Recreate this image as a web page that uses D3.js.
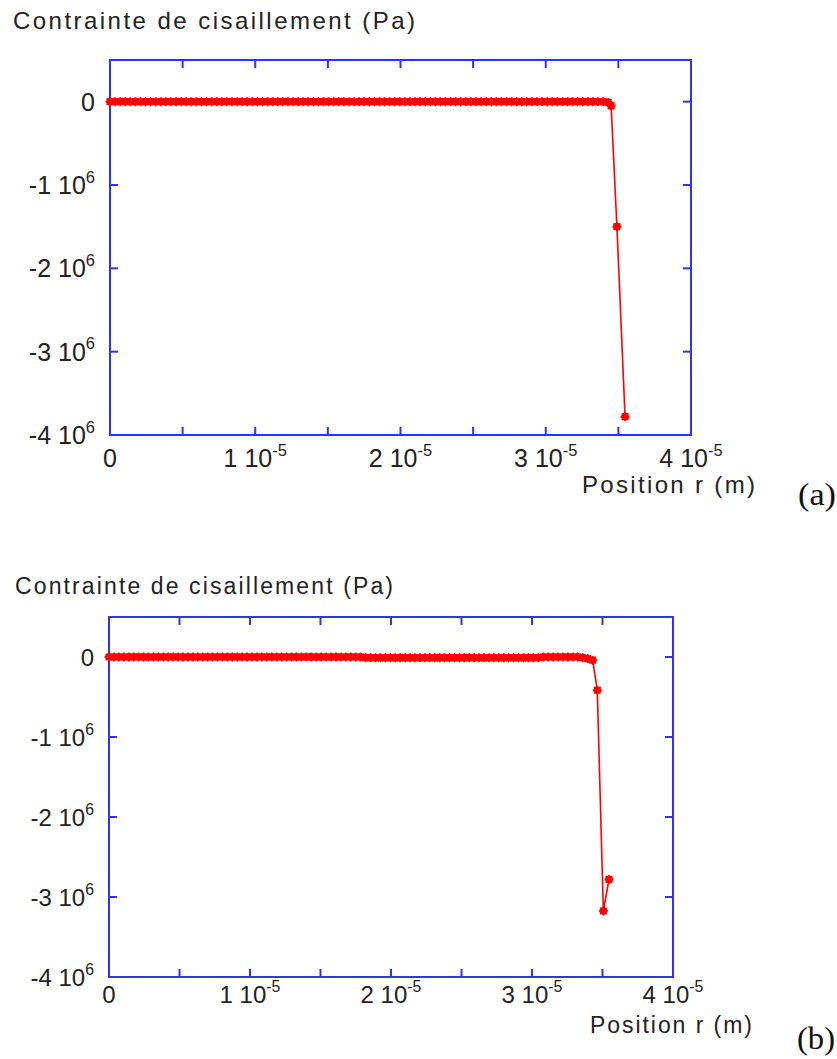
<!DOCTYPE html>
<html><head><meta charset="utf-8">
<script src="https://cdn.jsdelivr.net/npm/d3@7"></script>
<style>body{margin:0;background:#fff}svg{display:block}</style>
</head><body>
<script>
// radial positions (units of 1e-5 m) on the flat part of the profile
const rGrid = [0,0.035,0.07,0.105,0.14,0.175,0.21,0.245,0.28,0.315,0.35,0.385,0.42,0.455,0.49,0.525,0.56,0.595,0.63,0.665,0.7,0.735,0.77,0.805,0.84,0.875,0.91,0.945,0.98,1.015,1.05,1.085,1.12,1.155,1.19,1.225,1.26,1.295,1.33,1.365,1.4,1.435,1.47,1.505,1.54,1.575,1.61,1.645,1.68,1.715,1.75,1.785,1.82,1.855,1.89,1.925,1.96,1.995,2.03,2.065,2.1,2.135,2.17,2.205,2.24,2.275,2.31,2.345,2.38,2.415,2.45,2.485,2.52,2.555,2.59,2.625,2.66,2.695,2.73,2.765,2.8,2.835,2.87,2.905,2.94,2.975,3.01,3.045,3.08,3.115,3.15,3.185,3.22,3.255,3.29,3.325,3.36,3.395,3.43];
// shear stress (units of 1e6 Pa) on the flat part
const tauFlatA = [0,0,0,0,0,0,0,0,0,0,0,0,0,0,0,0,0,0,0,0,0,0,0,0,0,0,0,0,0,0,0,0,0,0,0,0,0,0,0,0,0,0,0,0,0,0,0,0,0,0,0,0,0,0,0,0,0,0,0,0,0,0,0,0,0,0,0,0,0,0,0,0,0,0,0,0,0,0,0,0,0,0,0,0,0,0,0,0,0,0,0,0,0,0,0,0,0,0,-0.01];
const tauFlatB = [0,0,0,0,0,0,0,0,0,0,0,0,0,0,0,0,0,0,0,0,0,0,0,0,0,0,0,0,0,0,0,0,0,0,0,0,0,0,0,0,0,0,0,0,0,0,0,0,0,0,0,0,-0.01,-0.01,-0.01,-0.01,-0.01,-0.01,-0.01,-0.01,-0.01,-0.01,-0.01,-0.01,-0.01,-0.01,-0.01,-0.01,-0.01,-0.01,-0.01,-0.01,-0.01,-0.01,-0.01,-0.01,-0.01,-0.01,-0.01,-0.01,-0.01,-0.01,-0.01,-0.01,-0.01,-0.01,-0.01,-0.01,0,0,0,0,0,0,0,0,-0.01,-0.02,-0.04];
// tails of the profiles near the wall
const rTailA = [3.45, 3.49, 3.546];
const tauTailA = [-0.05, -1.5, -3.78];
const rTailB = [3.463, 3.506, 3.546];
const tauTailB = [-0.415, -3.175, -2.78];
// axes
const xDomain = [0, 4];       // x 1e-5 m
const yDomain = [-4, 0.5];    // x 1e6 Pa
const xTicks = [0,0.5,1,1.5,2,2.5,3,3.5,4];
const xTickLabels = [[0,"0",""],[1,"1 10","-5"],[2,"2 10","-5"],[3,"3 10","-5"],[4,"4 10","-5"]];
const yTicks = [0,-1,-2,-3,-4];
const yTickLabels = [[0,"0",""],[-1,"-1 10","6"],[-2,"-2 10","6"],[-3,"-3 10","6"],[-4,"-4 10","6"]];
const yTitle = "Contrainte de cisaillement (Pa)";
const xTitle = "Position r (m)";

const W = 837, H = 1059;
const svg = d3.select("body").append("svg").attr("width", W).attr("height", H);
const FONT = "Liberation Sans, Arial, sans-serif";
const blue = "#3030ff", red = "#ff0000";

function panel(cfg) {
  const g = svg.append("g");
  const x = d3.scaleLinear().domain(xDomain).range([cfg.left, cfg.right]);
  const y = d3.scaleLinear().domain(yDomain).range([cfg.bottom, cfg.top]);
  // title
  g.append("text").attr("x", cfg.titleX).attr("y", cfg.titleY)
    .attr("font-family", FONT).attr("font-size", cfg.tfs).attr("fill", "#222")
    .attr("textLength", cfg.titleLen).attr("lengthAdjust", "spacing").text(yTitle);
  // frame
  g.append("rect").attr("x", cfg.left).attr("y", cfg.top)
    .attr("width", cfg.right - cfg.left).attr("height", cfg.bottom - cfg.top)
    .attr("fill", "none").attr("stroke", blue).attr("stroke-width", 2);
  // ticks (inward, on all sides)
  const tl = 8;
  xTicks.slice(1, -1).forEach(t => {
    g.append("line").attr("x1", x(t)).attr("x2", x(t)).attr("y1", cfg.top).attr("y2", cfg.top + tl).attr("stroke", blue).attr("stroke-width", 2);
    g.append("line").attr("x1", x(t)).attr("x2", x(t)).attr("y1", cfg.bottom).attr("y2", cfg.bottom - tl).attr("stroke", blue).attr("stroke-width", 2);
  });
  yTicks.slice(0, -1).forEach(t => {
    g.append("line").attr("y1", y(t)).attr("y2", y(t)).attr("x1", cfg.left).attr("x2", cfg.left + tl).attr("stroke", blue).attr("stroke-width", 2);
    g.append("line").attr("y1", y(t)).attr("y2", y(t)).attr("x1", cfg.right).attr("x2", cfg.right - tl).attr("stroke", blue).attr("stroke-width", 2);
  });
  // tick labels
  xTickLabels.forEach(([v, main, sup]) => {
    const t = g.append("text").attr("x", x(v)).attr("y", cfg.bottom + cfg.xlabDy)
      .attr("text-anchor", "middle").attr("font-family", FONT).attr("font-size", cfg.fs).attr("fill", "#222");
    t.append("tspan").text(main);
    if (sup) t.append("tspan").attr("dy", -cfg.fs * 0.45).attr("font-size", cfg.fs * 0.66).text(sup);
  });
  yTickLabels.forEach(([v, main, sup]) => {
    const t = g.append("text").attr("x", cfg.left - 15).attr("y", y(v) + cfg.fs * 0.36)
      .attr("text-anchor", "end").attr("font-family", FONT).attr("font-size", cfg.fs).attr("fill", "#222");
    t.append("tspan").text(main);
    if (sup) t.append("tspan").attr("dy", -cfg.fs * 0.45).attr("font-size", cfg.fs * 0.66).text(sup);
  });
  // x title
  g.append("text").attr("x", cfg.xTitleX).attr("y", cfg.xTitleY)
    .attr("font-family", FONT).attr("font-size", cfg.tfs).attr("fill", "#222")
    .attr("textLength", cfg.xTitleLen).attr("lengthAdjust", "spacing").text(xTitle);
  // panel letter
  g.append("text").attr("x", cfg.letterX).attr("y", cfg.letterY)
    .attr("font-family", "Liberation Serif, DejaVu Serif, serif").attr("font-size", 32).attr("fill", "#111")
    .attr("textLength", 38).attr("lengthAdjust", "spacingAndGlyphs").text(cfg.letter);
  // data
  const pts = cfg.r.map((r, i) => [r, cfg.tau[i]]);
  const line = d3.line().x(d => x(d[0])).y(d => y(d[1]));
  g.append("path").attr("d", line(pts)).attr("fill", "none").attr("stroke", red).attr("stroke-width", 1.6);
  const m = g.append("g").attr("fill", red).attr("stroke", red).attr("stroke-width", 1.5);
  pts.forEach(d => {
    const cx = x(d[0]), cy = y(d[1]);
    const mg = m.append("g").attr("transform", `translate(${cx},${cy})`);
    mg.append("circle").attr("r", 3.2);
    mg.append("path").attr("d", "M-4.5,0H4.5M0,-4.5V4.5M-3.3,-3.3L3.3,3.3M-3.3,3.3L3.3,-3.3");
  });
}

panel({left: 110, right: 691, top: 60, bottom: 435, fs: 25, tfs: 24,
  titleX: 13, titleY: 29, titleLen: 402,
  xlabDy: 32, xTitleX: 582, xTitleY: 493, xTitleLen: 173,
  letterX: 798, letterY: 505, letter: "(a)",
  r: rGrid.concat(rTailA), tau: tauFlatA.concat(tauTailA)});
panel({left: 109, right: 673, top: 617, bottom: 977, fs: 24, tfs: 23,
  titleX: 15, titleY: 594, titleLen: 378,
  xlabDy: 26, xTitleX: 590, xTitleY: 1033, xTitleLen: 162,
  letterX: 797, letterY: 1049, letter: "(b)",
  r: rGrid.concat(rTailB), tau: tauFlatB.concat(tauTailB)});
</script>
</body></html>
